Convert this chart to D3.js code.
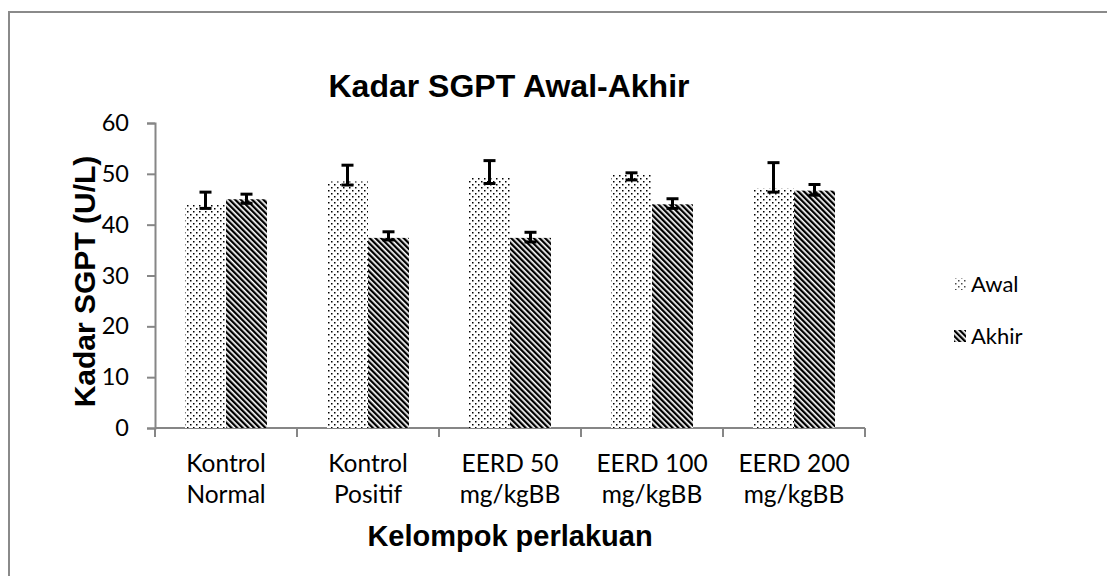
<!DOCTYPE html>
<html>
<head>
<meta charset="utf-8">
<script src="https://cdn.jsdelivr.net/npm/d3@7"></script>
<style>
  html, body { margin: 0; padding: 0; background: #fff; }
  svg { display: block; }
</style>
</head>
<body>
<script>
// ---- data ----
const categories = [["Kontrol", "Normal"], ["Kontrol", "Positif"], ["EERD 50", "mg/kgBB"], ["EERD 100", "mg/kgBB"], ["EERD 200", "mg/kgBB"]];
const seriesNames = ["Awal", "Akhir"];
const awal = [43.9, 48.5, 49.2, 49.8, 47.1];
const akhir = [45.0, 37.4, 37.4, 44.0, 46.7];
const awalErrUp = [2.5, 3.2, 3.4, 0.4, 5.1];
const awalErrDown = [0.7, 0.7, 1.1, 1.0, 0.7];
const akhirErrUp = [1.0, 1.2, 1.1, 1.1, 1.2];
const akhirErrDown = [0.8, 0.4, 0.8, 0.8, 0.9];
const yTicks = [0, 10, 20, 30, 40, 50, 60];
const titleText = "Kadar SGPT Awal-Akhir";
const yTitle = "Kadar SGPT (U/L)";
const xTitle = "Kelompok perlakuan";

// ---- layout ----
const W = 1107, H = 576;
const plot = { left: 155, right: 865, top: 123, bottom: 428 };
const axisColor = "#868686";
const labelFont = "Lato, 'Noto Sans', sans-serif";
const boldFont = "'Liberation Sans', Arial, sans-serif";

const svg = d3.select("body").append("svg").attr("width", W).attr("height", H);

// patterns
const defs = svg.append("defs");
const dots = defs.append("pattern").attr("id", "dots").attr("patternUnits", "userSpaceOnUse")
  .attr("width", 6).attr("height", 6);
dots.append("rect").attr("width", 6).attr("height", 6).attr("fill", "#fff");
dots.append("rect").attr("x", 1).attr("y", 1).attr("width", 1.5).attr("height", 1.5).attr("fill", "#000");
dots.append("rect").attr("x", 4).attr("y", 4).attr("width", 1.5).attr("height", 1.5).attr("fill", "#000");

const stripes = defs.append("pattern").attr("id", "stripes").attr("patternUnits", "userSpaceOnUse")
  .attr("width", 4).attr("height", 4).attr("patternTransform", "rotate(-45)");
stripes.append("rect").attr("width", 4).attr("height", 4).attr("fill", "#fff");
stripes.append("rect").attr("width", 2.3).attr("height", 4).attr("fill", "#000");

const fills = ["url(#dots)", "url(#stripes)"];

// outer frame
svg.append("rect").attr("x", 9).attr("y", 12).attr("width", W + 20).attr("height", H + 20)
  .attr("fill", "none").attr("stroke", "#8a8a8a").attr("stroke-width", 2);

// scales
const idx = categories.map((d, i) => i);
const pi = 0.4225;
const x0 = d3.scaleBand().domain(idx).range([plot.left, plot.right]).paddingInner(pi).paddingOuter(pi / 2);
const x1 = d3.scaleBand().domain([0, 1]).range([0, x0.bandwidth()]);
const y = d3.scaleLinear().domain([0, 60]).range([plot.bottom, plot.top]);

// y axis
const yAxis = svg.append("g").attr("transform", `translate(${plot.left},0)`)
  .call(d3.axisLeft(y).tickValues(yTicks).tickSize(8).tickPadding(18).tickFormat(d3.format("d")));
yAxis.select(".domain").attr("stroke", axisColor).attr("stroke-width", 2);
yAxis.selectAll(".tick line").attr("stroke", axisColor).attr("stroke-width", 2);
yAxis.selectAll(".tick text").attr("font-family", labelFont).attr("font-size", 23.5).attr("fill", "#000");

// x axis (category boundaries ticks)
const step = x0.step();
const boundaries = d3.range(categories.length + 1).map(i => plot.left + i * step);
svg.append("line").attr("x1", plot.left).attr("x2", plot.right).attr("y1", plot.bottom).attr("y2", plot.bottom)
  .attr("stroke", axisColor).attr("stroke-width", 2);
svg.selectAll(".xtick").data(boundaries).join("line")
  .attr("x1", d => d).attr("x2", d => d).attr("y1", plot.bottom).attr("y2", plot.bottom + 9)
  .attr("stroke", axisColor).attr("stroke-width", 2);

// x labels
const xl = svg.append("g");
categories.forEach((lines, i) => {
  const cx = x0(i) + x0.bandwidth() / 2;
  lines.forEach((t, j) => {
    xl.append("text").attr("x", cx).attr("y", 472 + j * 31).attr("text-anchor", "middle")
      .attr("font-family", labelFont).attr("font-size", 24.5).attr("fill", "#000").text(t);
  });
});

// bars
const series = [awal, akhir];
const errUp = [awalErrUp, akhirErrUp];
const errDown = [awalErrDown, akhirErrDown];
series.forEach((vals, s) => {
  svg.append("g").selectAll("rect").data(vals).join("rect")
    .attr("x", (d, i) => x0(i) + x1(s))
    .attr("y", d => y(d))
    .attr("width", x1.bandwidth())
    .attr("height", d => y(0) - y(d))
    .attr("fill", fills[s]);
});

// error bars
series.forEach((vals, s) => {
  const g = svg.append("g").attr("stroke", "#000").attr("stroke-width", 3);
  vals.forEach((v, i) => {
    const cx = x0(i) + x1(s) + x1.bandwidth() / 2;
    const yt = y(v + errUp[s][i]);
    const yb = y(v - errDown[s][i]);
    g.append("line").attr("x1", cx).attr("x2", cx).attr("y1", yt).attr("y2", yb);
    g.append("line").attr("x1", cx - 6).attr("x2", cx + 6).attr("y1", yt).attr("y2", yt);
    g.append("line").attr("x1", cx - 6).attr("x2", cx + 6).attr("y1", yb).attr("y2", yb);
  });
});

// titles
svg.append("text").attr("x", 509).attr("y", 97).attr("text-anchor", "middle")
  .attr("font-family", boldFont).attr("font-weight", "bold").attr("font-size", 32).text(titleText);
svg.append("text").attr("transform", `translate(95,${(plot.top + plot.bottom) / 2 + 6}) rotate(-90)`)
  .attr("text-anchor", "middle").attr("font-family", boldFont).attr("font-weight", "bold")
  .attr("font-size", 30).text(yTitle);
svg.append("text").attr("x", 510).attr("y", 546).attr("text-anchor", "middle")
  .attr("font-family", boldFont).attr("font-weight", "bold").attr("font-size", 29).text(xTitle);

// legend
const legend = svg.append("g");
seriesNames.forEach((n, s) => {
  const ly = 284 + s * 52;
  legend.append("rect").attr("x", 954).attr("y", ly - 6).attr("width", 12).attr("height", 12)
    .attr("fill", fills[s]).attr("opacity", s === 0 ? 0.7 : 1);
  legend.append("text").attr("x", 971).attr("y", ly).attr("dy", "0.35em")
    .attr("font-family", labelFont).attr("font-size", 22).attr("fill", "#000").text(n);
});
</script>
</body>
</html>
